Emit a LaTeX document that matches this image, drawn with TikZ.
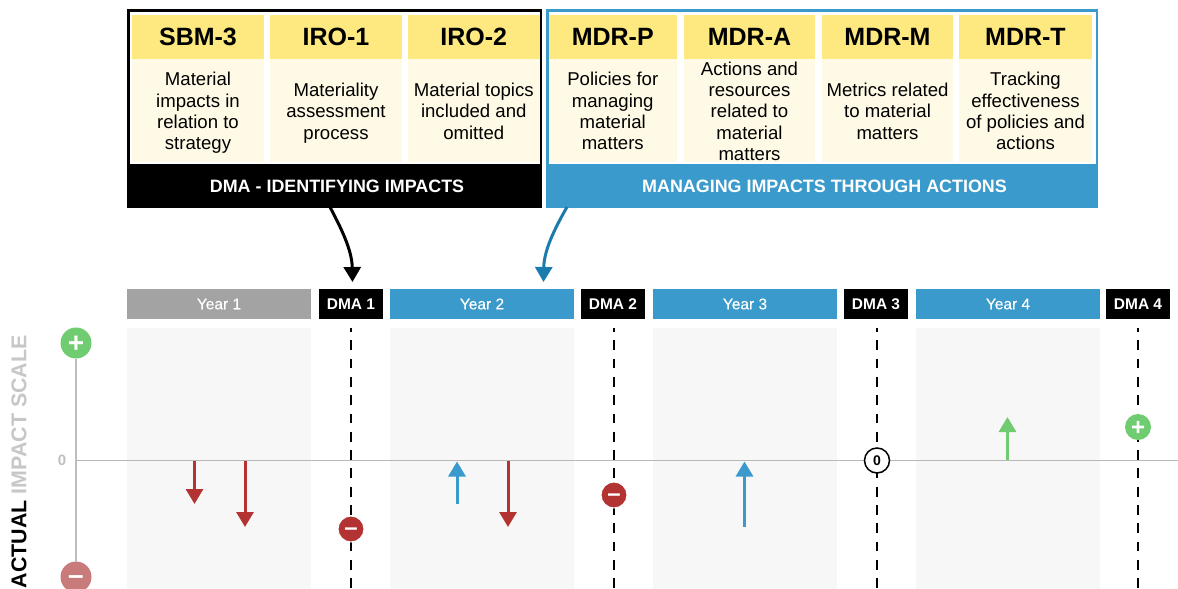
\documentclass[tikz,border=0pt]{standalone}
\usepackage{fontspec}
\setmainfont{Liberation Sans}
\newfontfamily\medfont[FakeBold=0.25]{Liberation Sans}
\usetikzlibrary{arrows.meta}
\definecolor{hdyellow}{HTML}{FDE97F}
\definecolor{cream}{HTML}{FFFAE6}
\definecolor{skyb}{HTML}{3A9ACB}
\definecolor{skyd}{HTML}{1B7BAC}
\definecolor{panelg}{HTML}{F7F7F7}
\definecolor{barg}{HTML}{A3A3A3}
\definecolor{axisg}{HTML}{BDBDBD}
\definecolor{zerog}{HTML}{B8B8B8}
\definecolor{red1}{HTML}{B33232}
\definecolor{red2}{HTML}{C97A7A}
\definecolor{green1}{HTML}{70CC70}
\tikzset{
 x=1pt,y=-1pt,
 bx/.style={draw=none,minimum width=0pt,minimum height=0pt,inner sep=0pt,outer sep=0pt},
 hd/.style={bx,font=\fontsize{25}{25}\selectfont\bfseries,text=black},
 band/.style={bx,font=\fontsize{17.9}{17.9}\selectfont\bfseries,text=white},
 yearbar/.style={bx,font=\fontsize{15.5}{15.5}\medfont,text=white},
 dmabar/.style={bx,fill=black,font=\fontsize{15.5}{15.5}\selectfont\bfseries,text=white},
 dashv/.style={draw=black,line width=1.4pt,dash pattern=on 9.8pt off 8.5pt,dash phase=6pt},
 badge/.style={circle,bx,minimum size=26pt,text=white,font=\fontsize{24}{24}\selectfont\bfseries},
 bigbadge/.style={circle,bx,minimum size=31pt,text=white,font=\fontsize{28}{28}\selectfont\bfseries},
 impact/.style={line width=3pt,-{Triangle[length=15pt,width=17pt]}},
 curve/.style={line width=3pt,-{Triangle[length=15pt,width=17pt]}}
}
\newcommand{\cellbox}[5]{% x1 x2 name title body
 \path[fill=hdyellow] (#1,15) rectangle (#2,59);
 \node[hd,anchor=center] (#3h) at ({(#1+#2)/2},37) {#4};
 \path[fill=cream] (#1,59) rectangle (#2,162);
 \node[bx,text=black,align=center,font=\fontsize{18.6}{21.3}\selectfont] (#3b) at ({(#1+#2)/2},113.5) {\strut #5\strut};
}
\newcommand{\rectnode}[7]{% x1 y1 x2 y2 name style text
 \node[#6,minimum width={(#3-#1)*1pt},minimum height={(#4-#2)*1pt},anchor=center] (#5) at ({(#1+#3)/2},{(#2+#4)/2}) {#7};
}
\newcommand{\glyphat}[2]{\smash{\raisebox{#1}{#2}}}
\begin{document}
\begin{tikzpicture}
\useasboundingbox[fill=white] (0,0) rectangle (1178,589);
% upper boxes
\path[fill=black] (127,9) rectangle (542,208);
\path[fill=white] (130,12) rectangle (539.5,164);
\path[fill=skyb] (546,9) rectangle (1098,208);
\path[fill=white] (548.5,12) rectangle (1095.5,164);
\rectnode{127}{164}{542}{208}{dmaband}{band}{\hspace*{5pt}DMA - IDENTIFYING IMPACTS}
\rectnode{546}{164}{1098}{208}{mgmtband}{band}{\hspace*{5pt}MANAGING IMPACTS THROUGH ACTIONS}
\cellbox{132}{264}{sbm}{SBM-3}{Material\\impacts in\\relation to\\strategy}
\cellbox{270}{402}{iroa}{IRO-1}{Materiality\\assessment\\process}
\cellbox{408}{539.5}{irob}{IRO-2}{Material topics\\included and\\omitted}
\cellbox{548.5}{677}{mdrp}{MDR-P}{Policies for\\managing\\material\\matters}
\cellbox{684}{815}{mdra}{MDR-A}{Actions and\\resources\\related to\\material\\matters}
\cellbox{822}{953}{mdrm}{MDR-M}{Metrics related\\to material\\matters}
\cellbox{959}{1092}{mdrt}{MDR-T}{Tracking\\effectiveness\\of policies and\\actions}
% panels
\path[fill=panelg] (127,328) rectangle (311,589);
\path[fill=panelg] (390,328) rectangle (574,589);
\path[fill=panelg] (653,328) rectangle (837,589);
\path[fill=panelg] (916,328) rectangle (1100,589);
% bars
\rectnode{127}{289}{311}{319}{yone}{yearbar,fill=barg}{Year 1}
\rectnode{319}{289}{383}{319}{dmaone}{dmabar}{DMA 1}
\rectnode{390}{289}{574}{319}{ytwo}{yearbar,fill=skyb}{Year 2}
\rectnode{581}{289}{645}{319}{dmatwo}{dmabar}{DMA 2}
\rectnode{653}{289}{837}{319}{ythree}{yearbar,fill=skyb}{Year 3}
\rectnode{844}{289}{908}{319}{dmathree}{dmabar}{DMA 3}
\rectnode{916}{289}{1100}{319}{yfour}{yearbar,fill=skyb}{Year 4}
\rectnode{1106}{289}{1170}{319}{dmafour}{dmabar}{DMA 4}
% axes
\coordinate (zl) at (76,460.5);
\coordinate (zr) at (1178,460.5);
\node[bigbadge,fill=green1] (pl) at (76,343) {\glyphat{-9.5pt}{+}};
\node[bigbadge,fill=red2] (mi) at (76,577) {\glyphat{-7.5pt}{–}};
\draw[axisg,line width=2pt] (pl) -- (mi);
\draw[zerog,line width=1.6pt] (zl) -- (zr);
\node[bx,text=black!25,font=\fontsize{15}{15}\selectfont\bfseries] (zero) at (62,460.5) {0};
\node[bx,rotate=90,anchor=west,font=\fontsize{21.4}{21.4}\selectfont\bfseries,text=black!22] (scale) at (19,588) {\textcolor{black}{ACTUAL} IMPACT SCALE};
% dashed
\foreach \n/\x in {a/351,b/614,c/877,d/1138}{
 \coordinate (dt\n) at (\x,328); \coordinate (db\n) at (\x,589);
 \draw[dashv] (dt\n) -- (db\n);
}
% impact arrows
\coordinate (ra) at (194.5,461); \coordinate (rb) at (194.5,504);
\draw[impact,red1] (ra) -- (rb);
\coordinate (rc) at (245,461); \coordinate (rd) at (245,527);
\draw[impact,red1] (rc) -- (rd);
\coordinate (ba) at (457,504); \coordinate (bb) at (457,461.5);
\draw[impact,skyb] (ba) -- (bb);
\coordinate (re) at (508,461); \coordinate (rf) at (508,527);
\draw[impact,red1] (re) -- (rf);
\coordinate (bc) at (744.5,527); \coordinate (bd) at (744.5,461.5);
\draw[impact,skyb] (bc) -- (bd);
\coordinate (ga) at (1007.5,460); \coordinate (gb) at (1007.5,417);
\draw[impact,green1] (ga) -- (gb);
% badges
\node[badge,fill=red1,draw=white,line width=1pt] (ba1) at (351,529) {\glyphat{-6.5pt}{–}};
\node[badge,fill=red1,draw=white,line width=1pt] (ba2) at (614,495) {\glyphat{-6.5pt}{–}};
\node[circle,bx,minimum size=25pt,fill=white,draw=black,line width=1.5pt,font=\fontsize{14}{14}\selectfont\bfseries] (ba3) at (877,460.5) {0};
\node[badge,fill=green1] (ba4) at (1138,427) {\glyphat{-8pt}{+}};
% curved
\coordinate (cs) at (330,207);
\coordinate (ce) at (352.5,282);
\coordinate (bs) at (567,207);
\coordinate (be) at (543.5,282);
\draw[curve,black] (cs) .. controls (341,228) and (352,250) .. (ce);
\draw[curve,skyd] (bs) .. controls (555,228) and (544,250) .. (be);
\end{tikzpicture}
\end{document}
